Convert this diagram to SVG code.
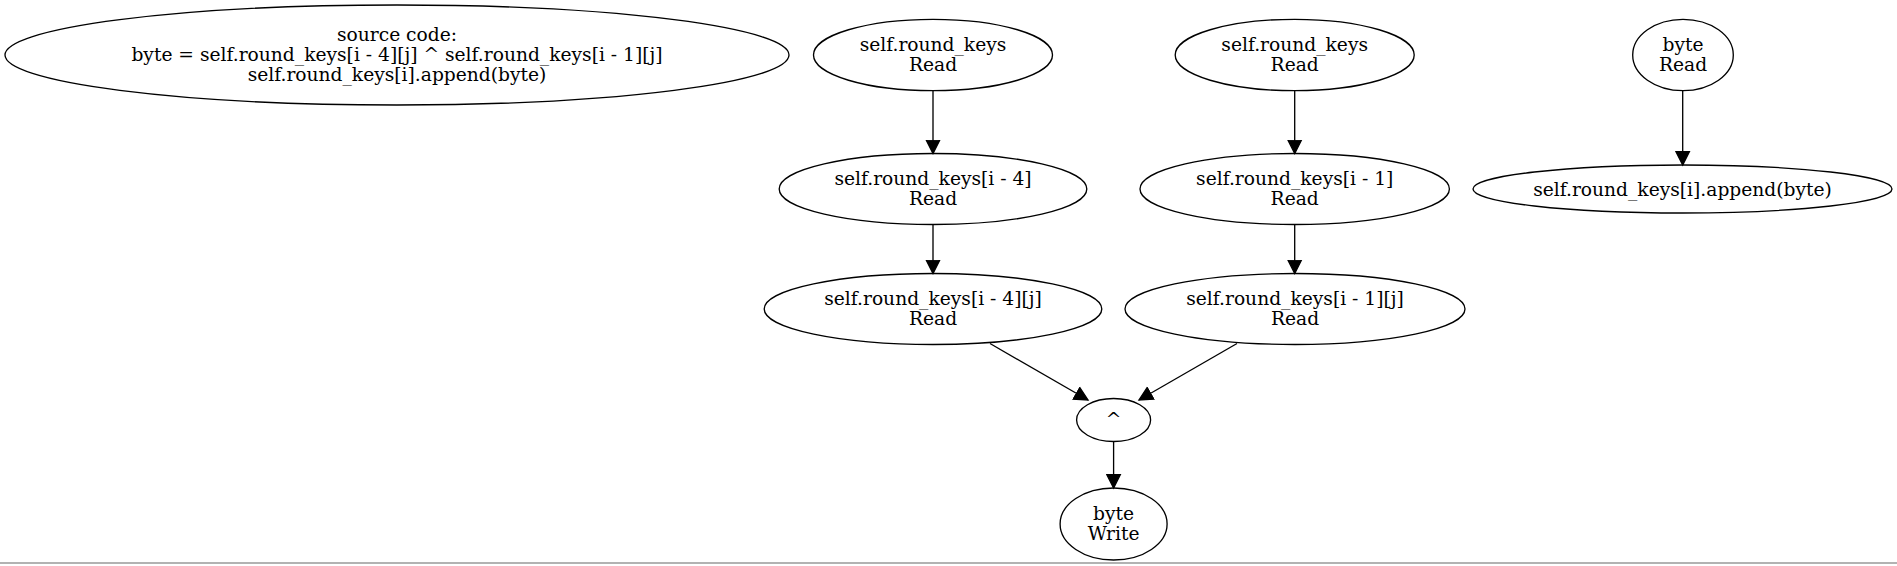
<svg xmlns="http://www.w3.org/2000/svg" width="1897" height="566" viewBox="0 0 1897 566">
<style>
.n ellipse{fill:none;stroke:#000;stroke-width:1.33}
.n text{font-family:"DejaVu Serif",serif;font-size:18.67px;fill:#000;text-anchor:middle}
.e line{stroke:#000;stroke-width:1.33;marker-end:url(#ah)}
</style>
<defs>
<marker id="ah" markerUnits="userSpaceOnUse" markerWidth="16" markerHeight="16" viewBox="0 0 16 16" refX="14" refY="8" orient="auto">
<path d="M0.7,1.3 L14,8 L0.7,14.7 Z" fill="#000" stroke="#000" stroke-width="1.33"/>
</marker>
</defs>
<rect width="1897" height="566" fill="#fff"/>
<g id="src" class="n">
<ellipse cx="397" cy="55" rx="392" ry="50"/>
<text x="397" y="40.5">source code:</text>
<text x="397" y="60.5">byte = self.round_keys[i - 4][j] ^ self.round_keys[i - 1][j]</text>
<text x="397" y="80.5">self.round_keys[i].append(byte)</text>
</g>
<g id="rkL" class="n">
<ellipse cx="933" cy="55" rx="119.5" ry="35.7"/>
<text x="933" y="50.5">self.round_keys</text>
<text x="933" y="70.5">Read</text>
</g>
<g id="rkR" class="n">
<ellipse cx="1294.7" cy="55" rx="119.5" ry="35.7"/>
<text x="1294.7" y="50.5">self.round_keys</text>
<text x="1294.7" y="70.5">Read</text>
</g>
<g id="byteR" class="n">
<ellipse cx="1683" cy="55" rx="50.3" ry="35.7"/>
<text x="1683" y="50.5">byte</text>
<text x="1683" y="70.5">Read</text>
</g>
<g id="rk4" class="n">
<ellipse cx="933" cy="189" rx="153.8" ry="35.5"/>
<text x="933" y="184.5">self.round_keys[i - 4]</text>
<text x="933" y="204.5">Read</text>
</g>
<g id="rk1" class="n">
<ellipse cx="1294.7" cy="189" rx="154.7" ry="35.5"/>
<text x="1294.7" y="184.5">self.round_keys[i - 1]</text>
<text x="1294.7" y="204.5">Read</text>
</g>
<g id="append" class="n">
<ellipse cx="1682.5" cy="189" rx="209.5" ry="24"/>
<text x="1682.5" y="195.5">self.round_keys[i].append(byte)</text>
</g>
<g id="rk4j" class="n">
<ellipse cx="933" cy="309" rx="168.8" ry="35.5"/>
<text x="933" y="304.5">self.round_keys[i - 4][j]</text>
<text x="933" y="324.5">Read</text>
</g>
<g id="rk1j" class="n">
<ellipse cx="1295" cy="309" rx="170" ry="35.5"/>
<text x="1295" y="304.5">self.round_keys[i - 1][j]</text>
<text x="1295" y="324.5">Read</text>
</g>
<g id="xor" class="n">
<ellipse cx="1113.6" cy="420" rx="37" ry="21.5"/>
<text x="1113.6" y="426">^</text>
</g>
<g id="byteW" class="n">
<ellipse cx="1113.6" cy="524" rx="53.5" ry="36"/>
<text x="1113.6" y="519.5">byte</text>
<text x="1113.6" y="539.5">Write</text>
</g>
<g id="edges" class="e">
<line x1="933" y1="90.7" x2="933" y2="153.5"/>
<line x1="1294.7" y1="90.7" x2="1294.7" y2="153.5"/>
<line x1="1682.7" y1="90.7" x2="1682.7" y2="165"/>
<line x1="933" y1="224.5" x2="933" y2="273.5"/>
<line x1="1294.7" y1="224.5" x2="1294.7" y2="273.5"/>
<line x1="990" y1="343.5" x2="1088" y2="400"/>
<line x1="1237" y1="343.5" x2="1139" y2="400"/>
<line x1="1113.6" y1="441.5" x2="1113.6" y2="488"/>
</g>
<line x1="0" y1="563" x2="1897" y2="563" stroke="#999" stroke-width="1.5"/>
</svg>
